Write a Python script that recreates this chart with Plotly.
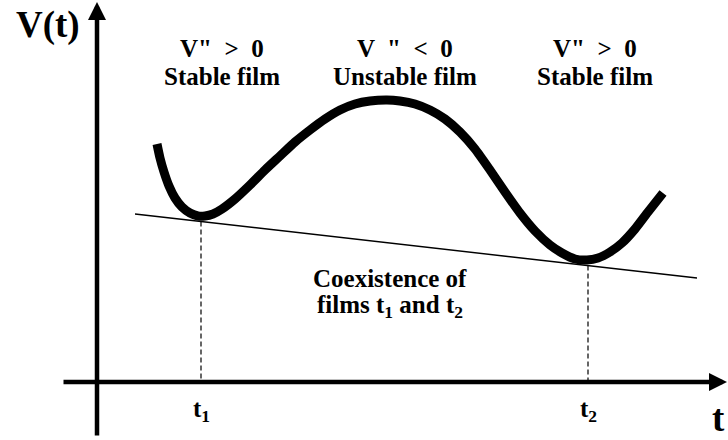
import plotly.graph_objects as go

# Potential curve V(t) (schematic), t and V in chart units (origin at axes crossing)
curve_t = [0.60, 0.63, 0.67, 0.72, 0.78, 0.85, 0.93, 1.01, 1.08, 1.16, 1.25, 1.38, 1.53, 1.68,
           1.83, 1.98, 2.13, 2.28, 2.43, 2.58, 2.73, 2.90, 3.03, 3.18, 3.33, 3.48, 3.63, 3.78,
           3.93, 4.08, 4.23, 4.38, 4.53, 4.65, 4.78, 4.90, 5.01, 5.13, 5.25, 5.38, 5.51, 5.66]
curve_v = [2.38, 2.24, 2.10, 1.96, 1.84, 1.75, 1.69, 1.66, 1.66, 1.68, 1.73, 1.83, 1.97, 2.12,
           2.26, 2.40, 2.52, 2.63, 2.72, 2.78, 2.81, 2.82, 2.81, 2.78, 2.72, 2.63, 2.50, 2.33,
           2.12, 1.90, 1.69, 1.51, 1.37, 1.29, 1.23, 1.22, 1.24, 1.30, 1.39, 1.53, 1.70, 1.89]

# Common tangent line
tangent_t = [0.38, 6.00]
tangent_v = [1.68, 1.04]

# Coexisting film thicknesses
film_t = [1.04, 4.91]
film_v = [1.605, 1.165]
film_labels = ["t<sub>1</sub>", "t<sub>2</sub>"]

# Region labels
region_t = [1.25, 3.08, 4.98]
region_top = ['V"  >  0', 'V  "  <  0', 'V"  >  0']
region_bottom = ["Stable film", "Unstable film", "Stable film"]

FONT = "Liberation Serif, serif"

fig = go.Figure()

# tangent line
fig.add_trace(go.Scatter(x=tangent_t, y=tangent_v, mode="lines",
                         line=dict(color="black", width=1.5), hoverinfo="skip"))

# dashed drop lines
for tt, vv in zip(film_t, film_v):
    fig.add_trace(go.Scatter(x=[tt, tt], y=[vv, 0], mode="lines",
                             line=dict(color="black", width=1.2, dash="5px,3px"),
                             hoverinfo="skip"))

# main curve
fig.add_trace(go.Scatter(x=curve_t, y=curve_v, mode="lines",
                         line=dict(color="black", width=9, shape="spline", smoothing=0.6),
                         hoverinfo="skip"))

annotations = []
# axis arrows
annotations.append(dict(x=6.30, y=0, ax=-0.35, ay=0, xref="x", yref="y", axref="x", ayref="y",
                        showarrow=True, arrowhead=2, arrowsize=0.8, arrowwidth=4.5,
                        arrowcolor="black", text=""))
annotations.append(dict(x=0, y=3.80, ax=0, ay=-0.55, xref="x", yref="y", axref="x", ayref="y",
                        showarrow=True, arrowhead=2, arrowsize=0.8, arrowwidth=4.5,
                        arrowcolor="black", text=""))

# axis titles
annotations.append(dict(x=-0.49, y=3.57, xref="x", yref="y", text="V(t)", showarrow=False,
                        font=dict(family=FONT, size=37, color="black", weight="bold")))
annotations.append(dict(x=6.21, y=-0.36, xref="x", yref="y", text="t", showarrow=False,
                        font=dict(family=FONT, size=37, color="black", weight="bold")))

# region labels
for rt, top, bot in zip(region_t, region_top, region_bottom):
    annotations.append(dict(x=rt, y=3.34, xref="x", yref="y", text=top, showarrow=False,
                            font=dict(family=FONT, size=25, color="black", weight="bold")))
    annotations.append(dict(x=rt, y=3.06, xref="x", yref="y", text=bot, showarrow=False,
                            font=dict(family=FONT, size=25, color="black", weight="bold")))

# coexistence label
annotations.append(dict(x=2.93, y=1.04, xref="x", yref="y", text="Coexistence of",
                        showarrow=False,
                        font=dict(family=FONT, size=25, color="black", weight="bold")))
annotations.append(dict(x=2.93, y=0.76, xref="x", yref="y",
                        text="films t<sub>1</sub> and t<sub>2</sub>", showarrow=False,
                        font=dict(family=FONT, size=25, color="black", weight="bold")))

# film thickness tick labels
for tt, lab in zip(film_t, film_labels):
    annotations.append(dict(x=tt, y=-0.28, xref="x", yref="y", text=lab, showarrow=False,
                            font=dict(family=FONT, size=25, color="black", weight="bold")))

fig.update_layout(
    width=728, height=440,
    margin=dict(l=0, r=0, t=0, b=0),
    paper_bgcolor="white", plot_bgcolor="white",
    showlegend=False,
    xaxis=dict(range=[-0.97, 6.31], visible=False, fixedrange=True),
    yaxis=dict(range=[-0.58, 3.82], visible=False, fixedrange=True),
    annotations=annotations,
)

fig.write_html("out.html")
